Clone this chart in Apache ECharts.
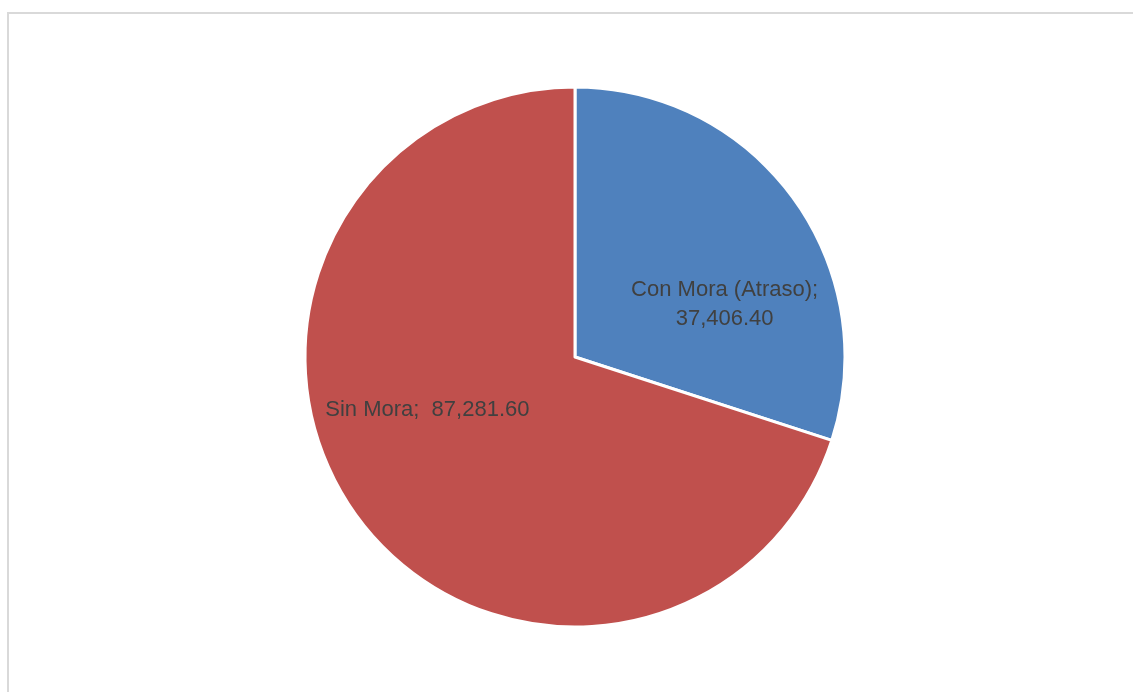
<!DOCTYPE html>
<html><head><meta charset="utf-8">
<style>html,body{margin:0;padding:0;background:#fff;}#c{width:1133px;height:692px;}</style>
<script src="https://cdn.jsdelivr.net/npm/echarts@6/dist/echarts.min.js"></script>
</head><body><div id="c"></div>
<script>
const categories = ['Con Mora (Atraso)', 'Sin Mora'];
const values = [37406.40, 87281.60];
const colors = ['#4f81bd', '#c0504d'];
const labelShift = [[38, 29], [-36, -28]];

function fmt(v){ return v.toLocaleString('en-US',{minimumFractionDigits:2,maximumFractionDigits:2}); }
const chart = echarts.init(document.getElementById('c'), null, {renderer:'canvas'});
chart.setOption({
  animation:false,
  backgroundColor:'#fff',
  graphic:[{type:'rect',shape:{x:8,y:13,width:1140,height:700},style:{fill:'none',stroke:'#d9d9d9',lineWidth:2},silent:true}],
  series:[{
    type:'pie',
    center:[575,357],
    radius:[0,270],
    startAngle:90,
    clockwise:true,
    data: categories.map((n,i)=>({name:n,value:values[i],itemStyle:{color:colors[i]}})),
    itemStyle:{borderColor:'#fff',borderWidth:3},
    label:{show:true,position:'inside',fontFamily:'Liberation Sans',fontSize:22,color:'#404040',lineHeight:29,
      formatter:p=> p.dataIndex===0 ? p.name+';\n'+fmt(p.value) : p.name+';  '+fmt(p.value)},
    labelLine:{show:false},
    labelLayout: p=>({dx:labelShift[p.dataIndex][0],dy:labelShift[p.dataIndex][1]}),
    emphasis:{disabled:true}
  }]
});
</script></body></html>
